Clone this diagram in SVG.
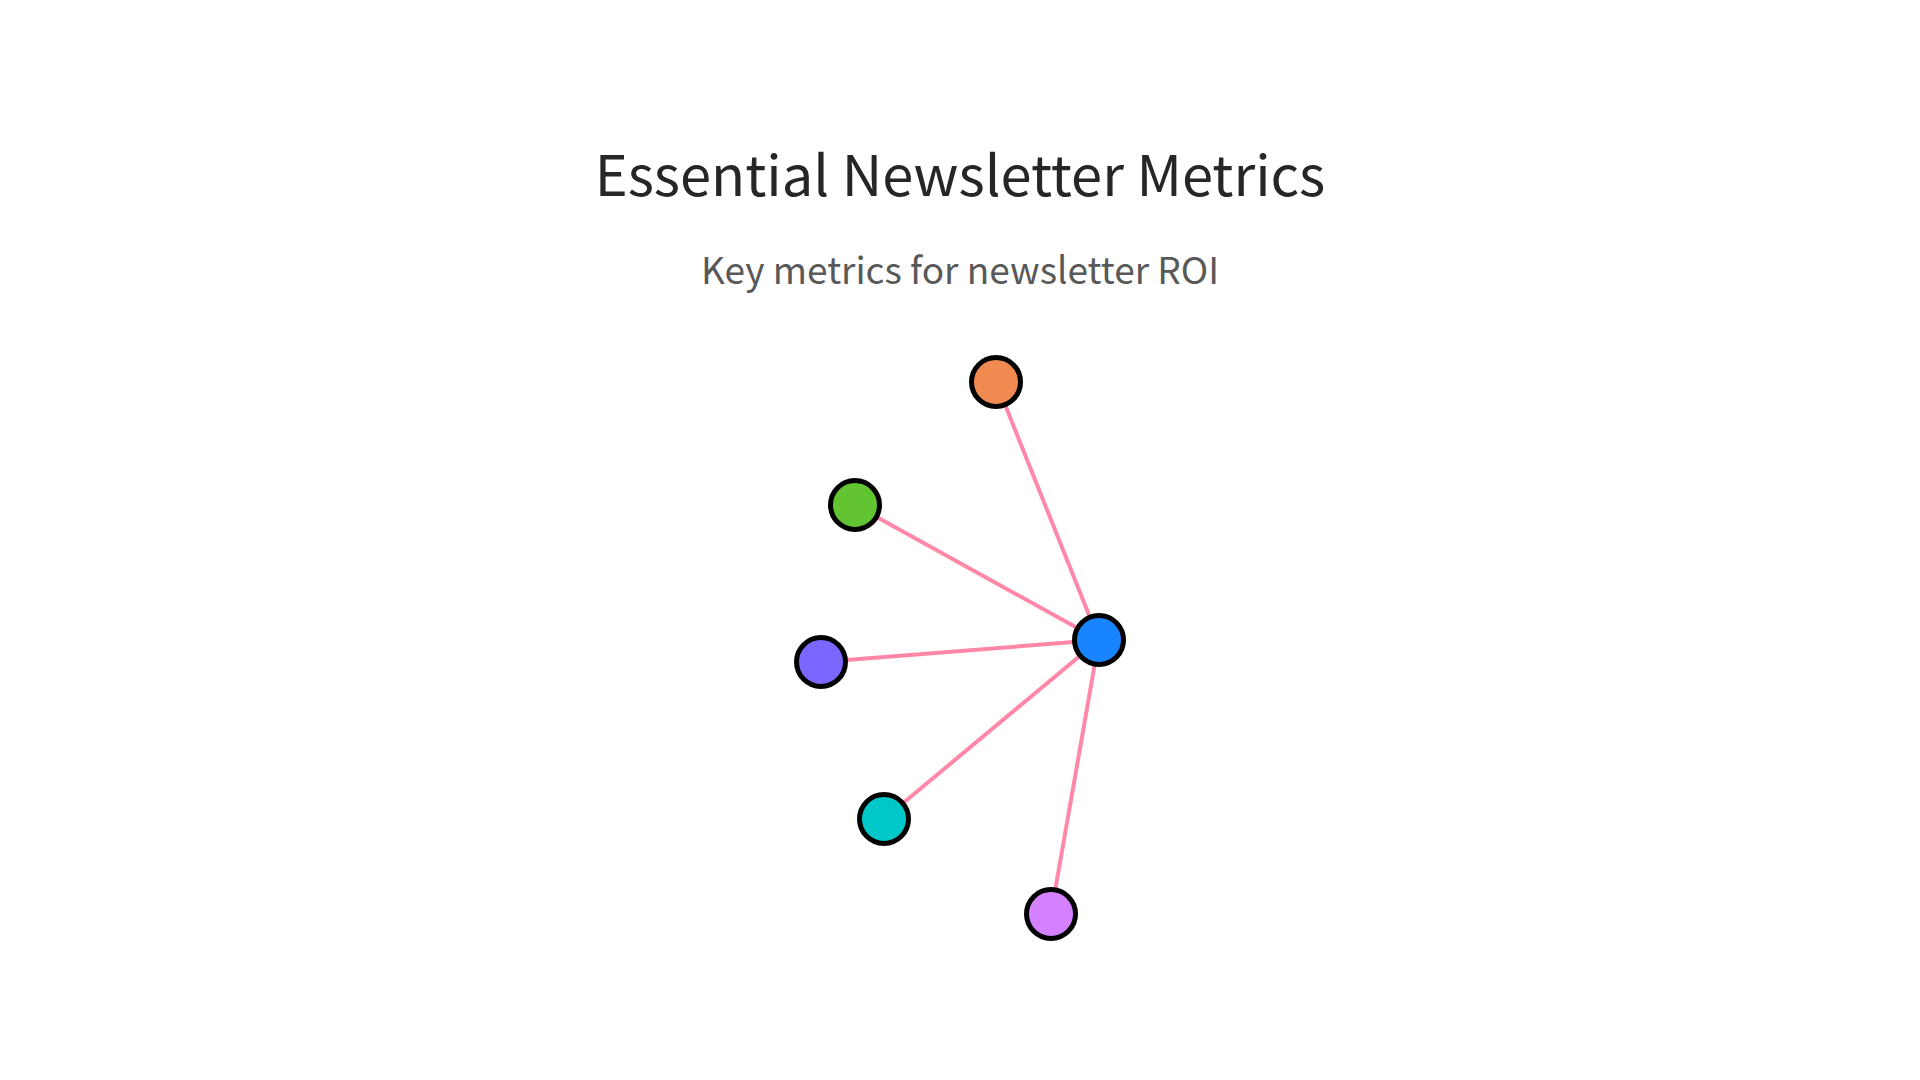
<svg xmlns="http://www.w3.org/2000/svg" width="1920" height="1080" viewBox="0 0 1920 1080">
<style>
.title{font-family:"Noto Sans CJK SC","Noto Sans",sans-serif;font-size:56px;fill:#262626;text-anchor:middle}
.sub{font-family:"Noto Sans CJK SC","Noto Sans",sans-serif;font-size:37px;fill:#595959;text-anchor:middle}
.edge{stroke:#ff88a8;stroke-width:4;fill:none}
.node{stroke:#000;stroke-width:5}
</style>
<rect width="1920" height="1080" fill="#fff"/>
<text class="title" x="960" y="196">Essential Newsletter Metrics</text>
<text class="sub" x="960" y="284">Key metrics for newsletter ROI</text>
<g id="connectors">
<line class="edge" x1="1099" y1="640" x2="996" y2="382"/>
<line class="edge" x1="1099" y1="640" x2="855" y2="505"/>
<line class="edge" x1="1099" y1="640" x2="821" y2="662"/>
<line class="edge" x1="1099" y1="640" x2="884" y2="819"/>
<line class="edge" x1="1099" y1="640" x2="1051" y2="914"/>
</g>
<g id="node-center"><circle class="node" cx="1099" cy="640" r="24.5" fill="#1884ff"/></g>
<g id="node-1"><circle class="node" cx="996" cy="382" r="24.5" fill="#f08a50"/></g>
<g id="node-2"><circle class="node" cx="855" cy="505" r="24.5" fill="#62c431"/></g>
<g id="node-3"><circle class="node" cx="821" cy="662" r="24.5" fill="#7b67ff"/></g>
<g id="node-4"><circle class="node" cx="884" cy="819" r="24.5" fill="#00c8c8"/></g>
<g id="node-5"><circle class="node" cx="1051" cy="914" r="24.5" fill="#d580ff"/></g>
</svg>
